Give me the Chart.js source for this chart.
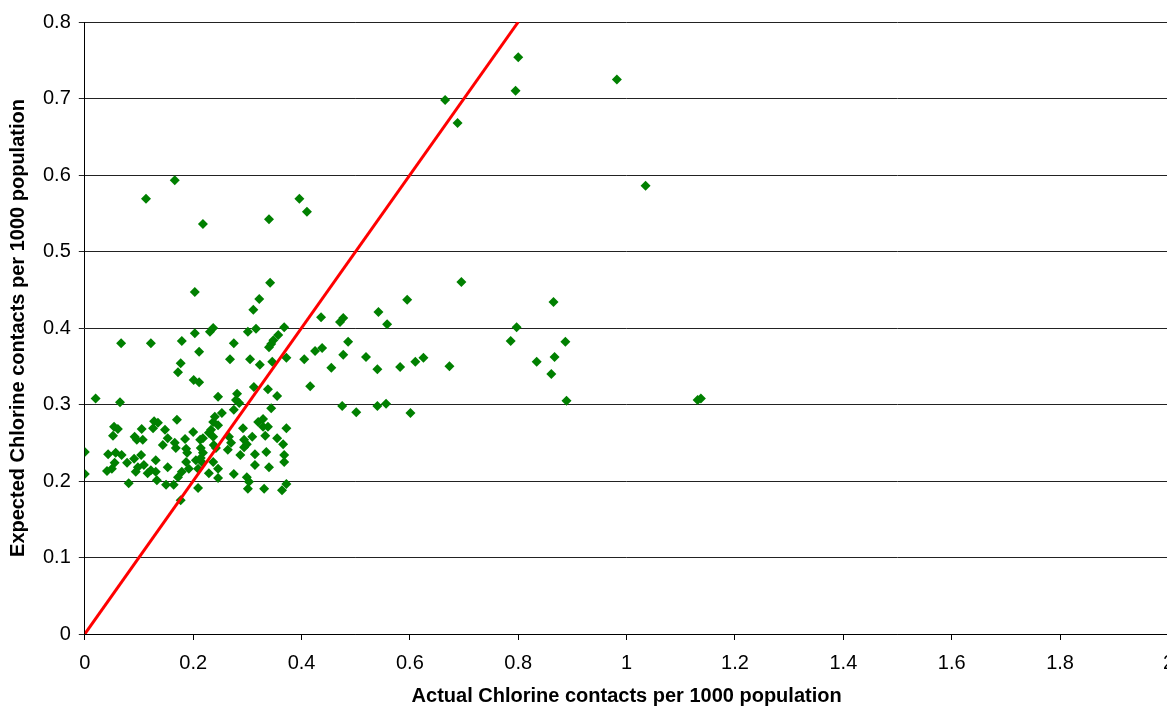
<!DOCTYPE html>
<html>
<head>
<meta charset="utf-8">
<script src="https://cdn.jsdelivr.net/npm/chart.js@4/dist/chart.umd.min.js"></script>
<style>
  html, body { margin: 0; padding: 0; background: #ffffff; overflow: hidden; }
  #wrap { position: absolute; left: 0; top: 0; width: 1187px; height: 706px; }
</style>
</head>
<body>
<div id="wrap"><canvas id="chart" width="1187" height="706"></canvas></div>
<script>
// Actual vs expected chlorine contacts per 1000 population, one entry per area
const actualContacts = [
  0.800, 0.795, 0.982, 0.665, 0.688, 1.035, 0.166, 0.113, 0.218, 0.340,
  0.396, 0.410, 0.203, 0.342, 0.695, 0.595, 0.865, 0.322, 0.311, 0.542,
  0.558, 0.436, 0.471, 0.477, 0.797, 0.316, 0.368, 0.357, 0.237, 0.231,
  0.203, 0.301, 0.067, 0.122, 0.179, 0.275, 0.340, 0.348, 0.486, 0.786,
  0.887, 0.211, 0.177, 0.172, 0.268, 0.305, 0.323, 0.346, 0.372, 0.405,
  0.425, 0.438, 0.477, 0.455, 0.519, 0.540, 0.582, 0.610, 0.625, 0.673,
  0.834, 0.867, 0.861, 0.416, 0.201, 0.211, 0.020, 0.065, 0.246, 0.281,
  0.279, 0.285, 0.275, 0.312, 0.338, 0.355, 0.344, 0.475, 0.540, 0.556,
  0.501, 0.601, 0.889, 1.131, 1.137, 0.253, 0.240, 0.237, 0.246, 0.233,
  0.170, 0.128, 0.135, 0.054, 0.061, 0.052, 0.105, 0.126, 0.148, 0.153,
  0.092, 0.096, 0.107, 0.144, 0.166, 0.168, 0.185, 0.200, 0.213, 0.218,
  0.229, 0.237, 0.187, 0.189, 0.214, 0.218, 0.238, 0.242, 0.266, 0.270,
  0.292, 0.294, 0.299, 0.294, 0.309, 0.320, 0.329, 0.329, 0.338, 0.333,
  0.355, 0.372, 0.366, 0.314, 0.335, 0.368, 0.368, 0.314, 0.340, 0.275,
  0.246, 0.246, 0.237, 0.229, 0.214, 0.216, 0.299, 0.303, 0.301, 0.331,
  0.364, 0.372, 0.209, 0.192, 0.179, 0.172, 0.153, 0.133, 0.150, 0.164,
  0.081, 0.177, 0.000, 0.000, 0.043, 0.057, 0.068, 0.055, 0.050, 0.041,
  0.078, 0.091, 0.098, 0.104, 0.094, 0.109, 0.116, 0.122, 0.131, 0.187,
  0.205, 0.209, 0.264, 0.287, 0.344, 0.131
];
const expectedContacts = [
  0.754, 0.710, 0.725, 0.698, 0.668, 0.586, 0.593, 0.569, 0.536, 0.542,
  0.569, 0.552, 0.447, 0.459, 0.460, 0.437, 0.434, 0.438, 0.424, 0.421,
  0.405, 0.414, 0.408, 0.413, 0.401, 0.399, 0.401, 0.391, 0.400, 0.395,
  0.393, 0.395, 0.380, 0.380, 0.383, 0.380, 0.375, 0.384, 0.382, 0.383,
  0.382, 0.369, 0.354, 0.342, 0.359, 0.359, 0.352, 0.356, 0.361, 0.359,
  0.370, 0.374, 0.365, 0.348, 0.362, 0.346, 0.349, 0.356, 0.361, 0.350,
  0.356, 0.362, 0.340, 0.324, 0.332, 0.329, 0.308, 0.303, 0.310, 0.314,
  0.306, 0.302, 0.293, 0.323, 0.320, 0.311, 0.295, 0.298, 0.298, 0.301,
  0.290, 0.289, 0.305, 0.306, 0.308, 0.289, 0.284, 0.277, 0.273, 0.267,
  0.280, 0.278, 0.276, 0.271, 0.268, 0.259, 0.268, 0.269, 0.267, 0.256,
  0.258, 0.254, 0.254, 0.247, 0.250, 0.243, 0.255, 0.264, 0.254, 0.256,
  0.263, 0.258, 0.242, 0.237, 0.243, 0.237, 0.247, 0.243, 0.258, 0.250,
  0.269, 0.254, 0.248, 0.244, 0.258, 0.277, 0.281, 0.271, 0.271, 0.259,
  0.256, 0.269, 0.248, 0.235, 0.238, 0.234, 0.225, 0.221, 0.218, 0.209,
  0.216, 0.204, 0.225, 0.210, 0.230, 0.225, 0.205, 0.199, 0.190, 0.190,
  0.188, 0.196, 0.191, 0.216, 0.212, 0.205, 0.218, 0.201, 0.195, 0.195,
  0.197, 0.175, 0.238, 0.209, 0.235, 0.237, 0.234, 0.224, 0.216, 0.213,
  0.224, 0.229, 0.218, 0.234, 0.212, 0.221, 0.210, 0.214, 0.227, 0.225,
  0.227, 0.216, 0.241, 0.234, 0.379, 0.212
];

// Line of equality (expected = actual)
const equalityX = [0, 0.8];
const equalityY = [0, 0.8];

// Axis ticks
const xTickValues = [0, 0.2, 0.4, 0.6, 0.8, 1, 1.2, 1.4, 1.6, 1.8, 2];
const xTickLabels = ['0', '0.2', '0.4', '0.6', '0.8', '1', '1.2', '1.4', '1.6', '1.8', '2'];
const yTickValues = [0, 0.1, 0.2, 0.3, 0.4, 0.5, 0.6, 0.7, 0.8];
const yTickLabels = ['0', '0.1', '0.2', '0.3', '0.4', '0.5', '0.6', '0.7', '0.8'];

const xTitle = 'Actual Chlorine contacts per 1000 population';
const yTitle = 'Expected Chlorine contacts per 1000 population';

const scatterPoints = actualContacts.map((x, i) => ({ x: x, y: expectedContacts[i] }));
const equalityPoints = equalityX.map((x, i) => ({ x: x, y: equalityY[i] }));

const FONT = '"Liberation Sans", Arial, sans-serif';

new Chart(document.getElementById('chart'), {
  type: 'scatter',
  data: {
    datasets: [
      {
        label: 'Equality',
        data: equalityPoints,
        showLine: true,
        borderColor: '#ff0000',
        borderWidth: 3,
        pointRadius: 0,
        fill: false,
        order: 0
      },
      {
        label: 'Areas',
        data: scatterPoints,
        pointStyle: 'rectRot',
        pointRadius: 5,
        pointHoverRadius: 5,
        backgroundColor: '#008000',
        borderColor: '#008000',
        borderWidth: 0,
        order: 1
      }
    ]
  },
  options: {
    responsive: false,
    animation: false,
    devicePixelRatio: 1,
    layout: { padding: { top: 22, right: 0, bottom: 0, left: 0 } },
    plugins: {
      legend: { display: false },
      tooltip: { enabled: false }
    },
    scales: {
      x: {
        type: 'linear',
        min: 0,
        max: 2,
        afterBuildTicks: (axis) => { axis.ticks = xTickValues.map(v => ({ value: v })); },
        ticks: {
          callback: (v, i) => xTickLabels[i],
          color: '#000',
          font: { family: FONT, size: 20, lineHeight: 1 },
          padding: 13,
          maxRotation: 0,
          autoSkip: false
        },
        grid: {
          drawOnChartArea: false,
          drawTicks: true,
          tickLength: 6,
          color: '#000',
          lineWidth: 1
        },
        border: { color: '#000', width: 1 },
        title: {
          display: true,
          text: xTitle,
          color: '#000',
          font: { family: FONT, size: 20, weight: 'bold', lineHeight: 1 },
          padding: { top: 0, bottom: 0 }
        }
      },
      y: {
        type: 'linear',
        min: 0,
        max: 0.8,
        afterBuildTicks: (axis) => { axis.ticks = yTickValues.map(v => ({ value: v })); },
        ticks: {
          callback: (v, i) => yTickLabels[i],
          color: '#000',
          font: { family: FONT, size: 20, lineHeight: 1 },
          padding: 8,
          autoSkip: false
        },
        grid: {
          drawOnChartArea: true,
          drawTicks: true,
          tickLength: 6,
          color: '#222',
          lineWidth: 1
        },
        border: { color: '#000', width: 1 },
        title: {
          display: true,
          text: yTitle,
          color: '#000',
          font: { family: FONT, size: 20, weight: 'bold', lineHeight: 1 },
          padding: { top: 8, bottom: 7 }
        }
      }
    }
  }
});
</script>
</body>
</html>
